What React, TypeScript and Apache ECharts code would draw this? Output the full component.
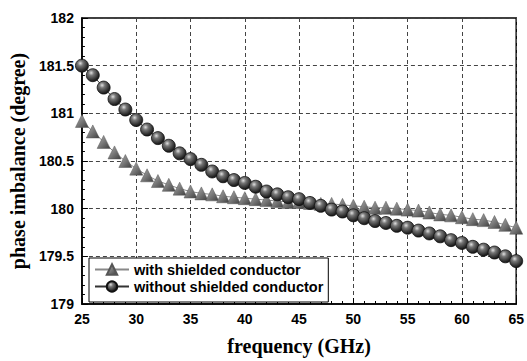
import React, { useEffect, useRef } from "react";
import * as echarts from "echarts";

const freq = [25,26,27,28,29,30,31,32,33,34,35,36,37,38,39,40,41,42,43,44,45,46,47,48,49,50,51,52,53,54,55,56,57,58,59,60,61,62,63,64,65];
const withShielded = [180.92,180.81,180.70,180.59,180.50,180.42,180.35,180.29,180.25,180.21,180.18,180.16,180.15,180.13,180.12,180.11,180.10,180.09,180.08,180.07,180.07,180.06,180.05,180.05,180.04,180.03,180.02,180.01,180.01,180.00,179.99,179.98,179.96,179.94,179.93,179.91,179.89,179.88,179.86,179.83,179.80];
const withoutShielded = [181.50,181.40,181.27,181.15,181.04,180.93,180.83,180.74,180.66,180.58,180.52,180.46,180.39,180.34,180.30,180.27,180.23,180.18,180.15,180.12,180.10,180.06,180.03,179.99,179.97,179.93,179.90,179.87,179.85,179.82,179.80,179.77,179.74,179.71,179.67,179.64,179.60,179.57,179.54,179.50,179.45];
const seriesNames = ["with shielded conductor", "without shielded conductor"];

export default function App() {
  const ref = useRef<HTMLDivElement>(null);
  useEffect(() => {
    if (!ref.current) return;
    const chart = echarts.init(ref.current, null, { renderer: "svg" });
    const sphere = new echarts.graphic.RadialGradient(0.38, 0.32, 0.7, [
      { offset: 0, color: "#e0e0e0" },
      { offset: 0.3, color: "#777" },
      { offset: 0.75, color: "#333" },
      { offset: 1, color: "#111" },
    ]);
    const tri = new echarts.graphic.LinearGradient(0, 0, 1, 1, [
      { offset: 0, color: "#b0b0b0" },
      { offset: 0.5, color: "#7a7a7a" },
      { offset: 1, color: "#3e3e3e" },
    ]);
    const axisLabel = { fontFamily: "Liberation Sans, Arial", fontWeight: "bold", fontSize: 14, color: "#000" };
    const nameStyle = { fontFamily: "Liberation Serif, Times New Roman, serif", fontWeight: "bold", fontSize: 20, color: "#000" };
    const split = { show: true, lineStyle: { type: [4, 3], color: "#444", width: 1 } };
    chart.setOption({
      animation: false,
      backgroundColor: "#fff",
      grid: { left: 81, right: 10, top: 18, bottom: 51, show: true, borderColor: "#000", borderWidth: 1.5, backgroundColor: "transparent" },
      legend: {
        left: 89, top: 258, orient: "vertical",
        backgroundColor: "#fff", borderColor: "#000", borderWidth: 1,
        padding: [4, 5, 8, 5], itemGap: 2, itemWidth: 34, itemHeight: 13,
        textStyle: { fontFamily: "Liberation Sans, Arial", fontWeight: "bold", fontSize: 14.5, color: "#000" },
        data: seriesNames,
      },
      xAxis: {
        type: "value", min: 25, max: 65, interval: 5,
        name: "frequency (GHz)", nameLocation: "middle", nameGap: 32, nameTextStyle: nameStyle,
        axisLine: { show: true, lineStyle: { color: "#000", width: 1.5 } },
        axisTick: { show: true, inside: true, length: 6, lineStyle: { color: "#000" } },
        minorTick: { show: true, splitNumber: 5, length: 3, lineStyle: { color: "#000" } },
        axisLabel: { ...axisLabel, margin: 8 },
        splitLine: split,
      },
      yAxis: {
        type: "value", min: 179, max: 182, interval: 0.5,
        name: "phase imbalance (degree)", nameLocation: "middle", nameGap: 39, nameTextStyle: nameStyle,
        axisLine: { show: true, lineStyle: { color: "#000", width: 1.5 } },
        axisTick: { show: true, inside: true, length: 6, lineStyle: { color: "#000" } },
        minorTick: { show: true, splitNumber: 5, length: 3, lineStyle: { color: "#000" } },
        axisLabel: { ...axisLabel, margin: 8 },
        splitLine: split,
      },
      series: [
        {
          name: seriesNames[0], type: "line",
          data: freq.map((f, i) => [f, withShielded[i]]),
          symbol: "triangle", symbolSize: [13, 13],
          lineStyle: { color: "#888", width: 1 },
          itemStyle: { color: tri, borderColor: "#555", borderWidth: 0.5 },
          z: 2,
        },
        {
          name: seriesNames[1], type: "line",
          data: freq.map((f, i) => [f, withoutShielded[i]]),
          symbol: "circle", symbolSize: 13,
          lineStyle: { color: "#333", width: 1 },
          itemStyle: { color: sphere, borderColor: "#111", borderWidth: 0.8 },
          z: 3,
        },
      ],
    });
    return () => chart.dispose();
  }, []);
  return <div ref={ref} style={{ width: 527, height: 361, position: "absolute", left: 0, top: 0 }} />;
}
